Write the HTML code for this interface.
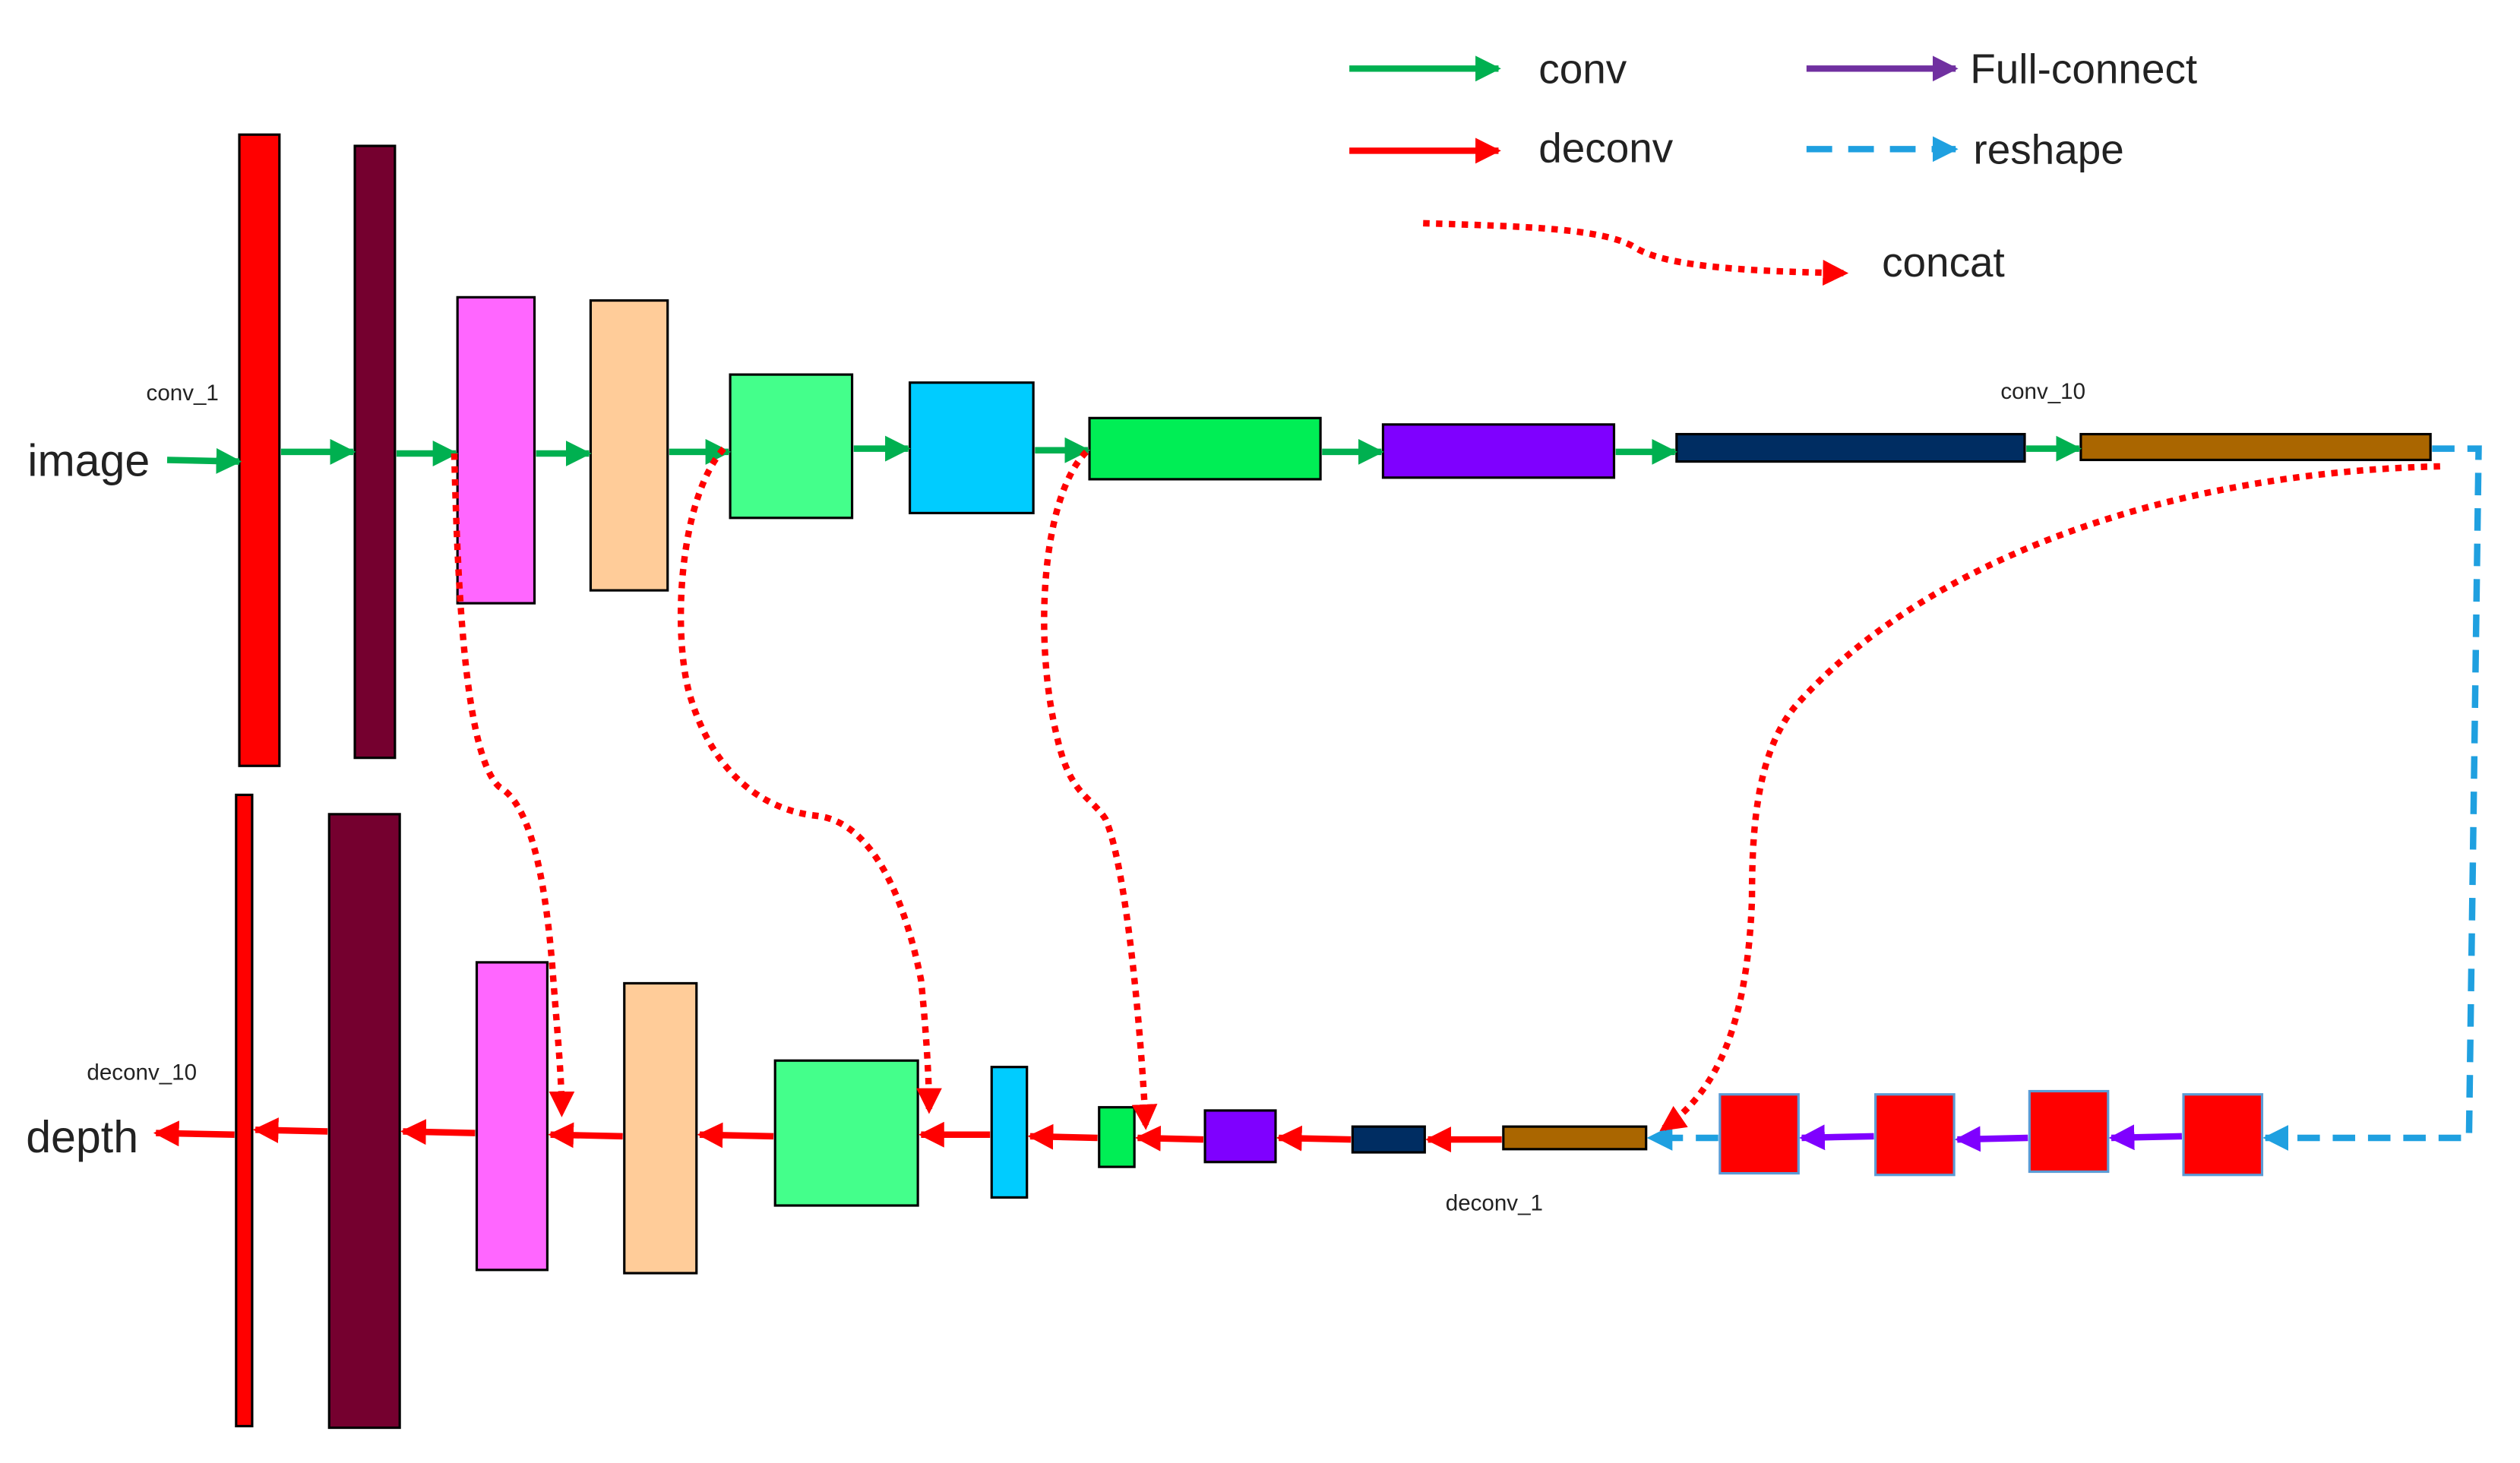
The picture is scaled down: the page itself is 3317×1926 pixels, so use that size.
<!DOCTYPE html>
<html><head><meta charset="utf-8"><style>
html,body{margin:0;padding:0;background:#fff;}
svg{display:block;}
text{font-family:"Liberation Sans","Noto Sans CJK SC",sans-serif;fill:#222;}
</style></head><body>
<svg width="3317" height="1926" viewBox="0.8 1.4 1571 908.5" preserveAspectRatio="none" xmlns="http://www.w3.org/2000/svg">
<defs>
<marker id="ag" viewBox="0 0 10 10" refX="9" refY="5" markerWidth="4" markerHeight="4" orient="auto" markerUnits="strokeWidth"><path d="M0,0L10,5L0,10z" fill="#00B050"/></marker>
<marker id="ar" viewBox="0 0 10 10" refX="9" refY="5" markerWidth="4" markerHeight="4" orient="auto" markerUnits="strokeWidth"><path d="M0,0L10,5L0,10z" fill="#FF0000"/></marker>
<marker id="ap" viewBox="0 0 10 10" refX="9" refY="5" markerWidth="4" markerHeight="4" orient="auto" markerUnits="strokeWidth"><path d="M0,0L10,5L0,10z" fill="#7F00FF"/></marker>
<marker id="apl" viewBox="0 0 10 10" refX="9" refY="5" markerWidth="4" markerHeight="4" orient="auto" markerUnits="strokeWidth"><path d="M0,0L10,5L0,10z" fill="#7030A0"/></marker>
<marker id="ab" viewBox="0 0 10 10" refX="9" refY="5" markerWidth="4" markerHeight="4" orient="auto" markerUnits="strokeWidth"><path d="M0,0L10,5L0,10z" fill="#1FA0E0"/></marker>
<marker id="ard" viewBox="0 0 10 10" refX="8" refY="5" markerWidth="4" markerHeight="4" orient="auto" markerUnits="strokeWidth"><path d="M0,0L10,5L0,10z" fill="#FF0000"/></marker>
</defs>

<!-- legend -->
<line x1="842" y1="44" x2="935" y2="44" stroke="#00B050" stroke-width="4" marker-end="url(#ag)"/>
<text x="960" y="53" font-size="26">conv</text>
<line x1="842" y1="95" x2="935" y2="95" stroke="#FF0000" stroke-width="4" marker-end="url(#ar)"/>
<text x="960" y="102" font-size="26">deconv</text>
<line x1="1127" y1="44" x2="1220" y2="44" stroke="#7030A0" stroke-width="4" marker-end="url(#apl)"/>
<text x="1229" y="53" font-size="26">Full-connect</text>
<line x1="1127" y1="94" x2="1220" y2="94" stroke="#1FA0E0" stroke-width="4" stroke-dasharray="16,10" marker-end="url(#ab)"/>
<text x="1231" y="103" font-size="26">reshape</text>
<path d="M888,140 C950,142 1000,143 1020,155 C1040,168 1100,170 1150,171" fill="none" stroke="#FF0000" stroke-width="4" stroke-dasharray="4,4" marker-end="url(#ard)"/>
<text x="1174" y="173" font-size="26">concat</text>

<!-- top row -->
<g stroke="#000" stroke-width="1.5">
<rect x="150" y="85" width="25" height="392" fill="#FF0000"/>
<rect x="222" y="92" width="25" height="380" fill="#75002F"/>
<rect x="286" y="186" width="48" height="190" fill="#FF66FF"/>
<rect x="369" y="188" width="48" height="180" fill="#FFCC99"/>
<rect x="456" y="234" width="76" height="89" fill="#44FF8B"/>
<rect x="568" y="239" width="77" height="81" fill="#00CCFF"/>
<rect x="680" y="261" width="144" height="38" fill="#00EE55"/>
<rect x="863" y="265" width="144" height="33" fill="#7F00FF"/>
<rect x="1046" y="271" width="217" height="17" fill="#002D62"/>
<rect x="1298" y="271" width="218" height="16" fill="#AA6600"/>
</g>
<g stroke="#00B050" stroke-width="4" fill="none">
<line x1="105" y1="287" x2="150" y2="288" marker-end="url(#ag)"/>
<line x1="176" y1="282" x2="221" y2="282" marker-end="url(#ag)"/>
<line x1="248" y1="283" x2="285" y2="283" marker-end="url(#ag)"/>
<line x1="335" y1="283" x2="368" y2="283" marker-end="url(#ag)"/>
<line x1="418" y1="282" x2="455" y2="282" marker-end="url(#ag)"/>
<line x1="533" y1="280" x2="567" y2="280" marker-end="url(#ag)"/>
<line x1="646" y1="281" x2="679" y2="281" marker-end="url(#ag)"/>
<line x1="825" y1="282" x2="862" y2="282" marker-end="url(#ag)"/>
<line x1="1008" y1="282" x2="1045" y2="282" marker-end="url(#ag)"/>
<line x1="1264" y1="280" x2="1297" y2="280" marker-end="url(#ag)"/>
</g>
<text x="18" y="297" font-size="28">image</text>
<text x="92" y="250" font-size="14" fill="#333">conv_1</text>
<text x="1248" y="249" font-size="14" fill="#333">conv_10</text>

<!-- bottom row -->
<g stroke="#000" stroke-width="1.5">
<rect x="148" y="495" width="10" height="392" fill="#FF0000"/>
<rect x="206" y="507" width="44" height="381" fill="#75002F"/>
<rect x="298" y="599" width="44" height="191" fill="#FF66FF"/>
<rect x="390" y="612" width="45" height="180" fill="#FFCC99"/>
<rect x="484" y="660" width="89" height="90" fill="#44FF8B"/>
<rect x="619" y="664" width="22" height="81" fill="#00CCFF"/>
<rect x="686" y="689" width="22" height="37" fill="#00EE55"/>
<rect x="752" y="691" width="44" height="32" fill="#7F00FF"/>
<rect x="844" y="701" width="45" height="16" fill="#002D62"/>
<rect x="938" y="701" width="89" height="14" fill="#AA6600"/>
</g>
<g stroke="#5B9BD5" stroke-width="1.5" fill="#FF0000">
<rect x="1073" y="681" width="49" height="49"/>
<rect x="1170" y="681" width="49" height="50"/>
<rect x="1266" y="679" width="49" height="50"/>
<rect x="1362" y="681" width="49" height="50"/>
</g>
<g stroke="#FF0000" stroke-width="4" fill="none">
<line x1="147" y1="706" x2="98" y2="705" marker-end="url(#ar)"/>
<line x1="205" y1="704" x2="160" y2="703" marker-end="url(#ar)"/>
<line x1="297" y1="705" x2="252" y2="704" marker-end="url(#ar)"/>
<line x1="389" y1="707" x2="344" y2="706" marker-end="url(#ar)"/>
<line x1="483" y1="707" x2="437" y2="706" marker-end="url(#ar)"/>
<line x1="618" y1="706" x2="575" y2="706" marker-end="url(#ar)"/>
<line x1="685" y1="708" x2="643" y2="707" marker-end="url(#ar)"/>
<line x1="751" y1="709" x2="710" y2="708" marker-end="url(#ar)"/>
<line x1="843" y1="709" x2="798" y2="708" marker-end="url(#ar)"/>
<line x1="937" y1="709" x2="891" y2="709" marker-end="url(#ar)"/>
</g>
<g stroke="#7F00FF" stroke-width="4" fill="none">
<line x1="1169" y1="707" x2="1124" y2="708" marker-end="url(#ap)"/>
<line x1="1265" y1="708" x2="1221" y2="709" marker-end="url(#ap)"/>
<line x1="1361" y1="707" x2="1317" y2="708" marker-end="url(#ap)"/>
</g>
<g stroke="#1FA0E0" stroke-width="4" fill="none" stroke-dasharray="14,8">
<line x1="1072" y1="708" x2="1029" y2="708" marker-end="url(#ab)"/>
<path d="M1517,280 L1546,280 L1540,708 L1413,708" marker-end="url(#ab)"/>
</g>
<text x="17" y="717" font-size="28">depth</text>
<text x="55" y="672" font-size="14" fill="#333">deconv_10</text>
<text x="902" y="753" font-size="14" fill="#333">deconv_1</text>

<!-- concat curves -->
<g stroke="#FF0000" stroke-width="4" fill="none" stroke-dasharray="4,4">
<path d="M284,283 C286,360 290,470 312,490 C330,500 340,540 345,600 C348,640 351,670 351,692" marker-end="url(#ard)"/>
<path d="M452,280 C425,310 420,390 430,430 C445,485 480,505 510,508 C545,512 565,560 575,610 C578,640 580,670 580,690" marker-end="url(#ard)"/>
<path d="M678,282 C650,310 645,400 660,460 C668,495 680,495 690,510 C703,540 712,640 715,700" marker-end="url(#ard)"/>
<path d="M1522,291 C1350,295 1200,350 1120,440 C1095,470 1093,520 1093,560 C1090,640 1070,680 1038,702" marker-end="url(#ard)"/>
</g>
</svg>
</body></html>
